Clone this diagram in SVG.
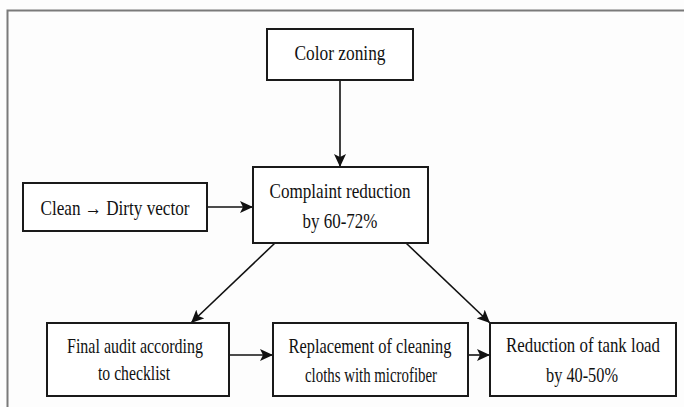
<svg xmlns="http://www.w3.org/2000/svg" width="684" height="407" viewBox="0 0 684 407">
<defs>
<style>
.box{fill:#fff;stroke:#1a1a1a;stroke-width:2}
.lbl{font-family:"Liberation Serif","Times New Roman",serif;font-size:22px;fill:#111;text-anchor:middle}
.con{stroke:#111;stroke-width:1.6;fill:none}
.frame{fill:none;stroke:#7a7a7a;stroke-width:2}
</style>
<marker id="ah" markerUnits="userSpaceOnUse" markerWidth="14" markerHeight="12" refX="13" refY="6" orient="auto" viewBox="0 0 14 12">
<path d="M0,0 L13,6 L0,12 L3,6 z" fill="#111"/>
</marker>
</defs>
<rect width="684" height="407" fill="#fdfdfd"/>
<path class="frame" d="M7.5,407 L7.5,10.5 L684,10.5"/>
<g id="connectors">
<line class="con" x1="340" y1="80" x2="340" y2="167" marker-end="url(#ah)"/>
<line class="con" x1="207" y1="207" x2="253" y2="207" marker-end="url(#ah)"/>
<line class="con" x1="275" y1="243" x2="191" y2="323" marker-end="url(#ah)"/>
<line class="con" x1="406" y1="243" x2="490" y2="323" marker-end="url(#ah)"/>
<line class="con" x1="229" y1="355" x2="273" y2="355" marker-end="url(#ah)"/>
<line class="con" x1="468" y1="355" x2="490" y2="355" marker-end="url(#ah)"/>
</g>
<g id="color-zoning">
<rect class="box" x="267" y="29" width="146" height="51"/>
<text class="lbl" x="340" y="60" textLength="91" lengthAdjust="spacingAndGlyphs">Color zoning</text>
</g>
<g id="clean-dirty">
<rect class="box" x="23" y="183" width="184" height="48"/>
<text class="lbl" x="115" y="215" textLength="149" lengthAdjust="spacingAndGlyphs">Clean → Dirty vector</text>
</g>
<g id="complaint">
<rect class="box" x="253" y="167" width="175" height="76"/>
<text class="lbl" x="340" y="198" textLength="141" lengthAdjust="spacingAndGlyphs">Complaint reduction</text>
<text class="lbl" x="340" y="228" textLength="75" lengthAdjust="spacingAndGlyphs">by 60-72%</text>
</g>
<g id="final-audit">
<rect class="box" x="47" y="323" width="182" height="73"/>
<text class="lbl" x="135" y="353" textLength="136" lengthAdjust="spacingAndGlyphs">Final audit according</text>
<text class="lbl" x="134" y="380" textLength="72" lengthAdjust="spacingAndGlyphs">to checklist</text>
</g>
<g id="replacement">
<rect class="box" x="273" y="323" width="195" height="73"/>
<text class="lbl" x="370" y="353" textLength="163" lengthAdjust="spacingAndGlyphs">Replacement of cleaning</text>
<text class="lbl" x="371" y="382" textLength="132" lengthAdjust="spacingAndGlyphs">cloths with microfiber</text>
</g>
<g id="tank-load">
<rect class="box" x="490" y="323" width="186" height="73"/>
<text class="lbl" transform="translate(583,352) scale(0.766,1)" x="0" y="0" textLength="201" lengthAdjust="spacingAndGlyphs">Reduction of tank load</text>
<text class="lbl" x="582" y="382" textLength="72" lengthAdjust="spacingAndGlyphs">by 40-50%</text>
</g>
</svg>
